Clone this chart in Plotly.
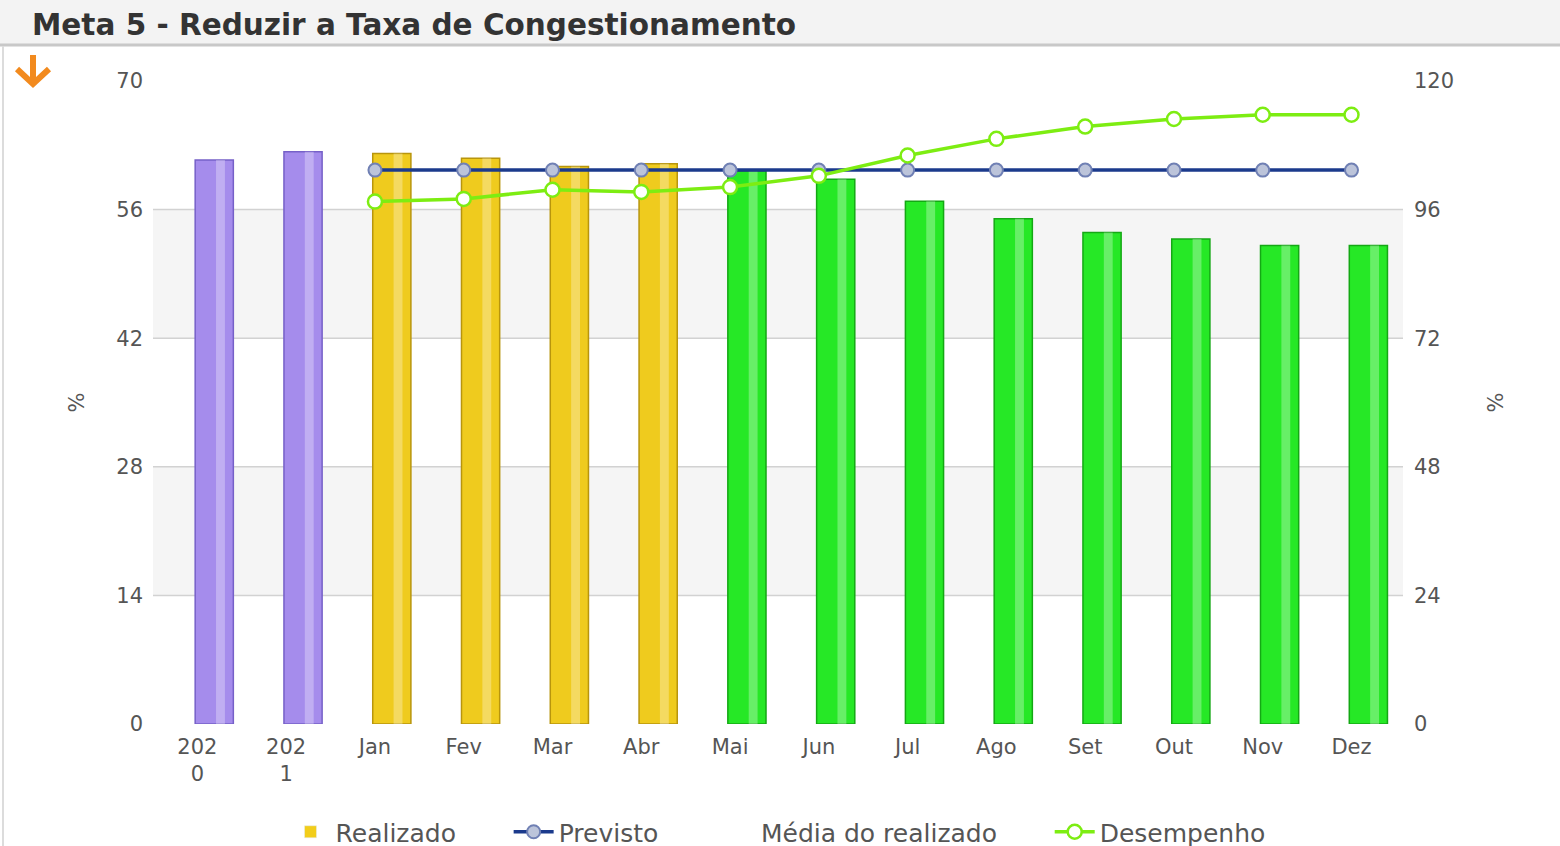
import plotly.graph_objects as go

FONT = "DejaVu Sans"
W, H = 1560, 846
# plot area in pixels
L, R, T, B = 153, 1403, 81, 724

categorias = ["2020", "2021", "Jan", "Fev", "Mar", "Abr", "Mai", "Jun",
              "Jul", "Ago", "Set", "Out", "Nov", "Dez"]
rotulos = ["202<br>0", "202<br>1", "Jan", "Fev", "Mar", "Abr", "Mai", "Jun",
           "Jul", "Ago", "Set", "Out", "Nov", "Dez"]
realizado = [61.4, 62.3, 62.1, 61.6, 60.7, 61.0, 60.2, 59.3,
             56.9, 55.0, 53.5, 52.8, 52.1, 52.1]
previsto = [None, None, 60.3, 60.3, 60.3, 60.3, 60.3, 60.3,
            60.3, 60.3, 60.3, 60.3, 60.3, 60.3]
desempenho = [None, None, 97.5, 98.0, 99.7, 99.3, 100.2, 102.3,
              106.1, 109.2, 111.5, 112.9, 113.7, 113.7]
cor_barra = ["#a58cec"] * 2 + ["#efcb1e"] * 4 + ["#26e826"] * 8
borda_barra = ["#7660c8"] * 2 + ["#b8950c"] * 4 + ["#14a814"] * 8

PAD = "\u00a0" * 6  # espaço extra entre itens da legenda


def px(x):
    return (x - L) / (R - L)


def py(y):
    return (B - y) / (B - T)


fig = go.Figure()

fig.add_trace(go.Bar(
    x=categorias, y=realizado, width=0.43, offset=-0.025,
    marker=dict(color=cor_barra, line=dict(color=borda_barra, width=1.5)),
    showlegend=False, name="Realizado",
))
# brilho da barra (efeito cilindro)
fig.add_trace(go.Bar(
    x=categorias, y=realizado, width=0.1, offset=0.21,
    marker=dict(color="rgba(255,255,255,0.3)", line=dict(width=0)),
    showlegend=False, hoverinfo="skip",
))
fig.add_trace(go.Bar(
    x=[None], y=[None], name="Realizado" + PAD, marker_color="#f2cd1a", legendrank=1,
))
fig.add_trace(go.Scatter(
    x=categorias, y=previsto, name="Previsto" + PAD, mode="lines+markers",
    line=dict(color="#1b3a8c", width=3.5),
    marker=dict(size=13, color="#bcc4da", line=dict(color="#7080b4", width=2)),
    legendrank=2,
))
fig.add_trace(go.Scatter(
    x=[None], y=[None], name="Média do realizado" + PAD, mode="lines",
    line=dict(color="rgba(0,0,0,0)"), legendrank=3,
))
fig.add_trace(go.Scatter(
    x=categorias, y=desempenho, name="Desempenho", mode="lines+markers",
    yaxis="y2", line=dict(color="#7ded12", width=3.5),
    marker=dict(size=14, color="white", line=dict(color="#7ded12", width=2.5)),
    legendrank=4,
))

shapes = []
for lo, hi in [(14, 28), (42, 56)]:
    shapes.append(dict(type="rect", xref="paper", yref="y", x0=0, x1=1, y0=lo, y1=hi,
                       fillcolor="#f5f5f5", line=dict(width=0), layer="below"))
for v in [14, 28, 42, 56]:
    shapes.append(dict(type="line", xref="paper", yref="y", x0=0, x1=1, y0=v, y1=v,
                       line=dict(color="#d2d2d2", width=1.5), layer="below"))
# faixa do título
shapes.append(dict(type="rect", xref="paper", yref="paper",
                   x0=px(0), x1=px(W), y0=py(0), y1=py(45),
                   fillcolor="#f3f3f3", line=dict(width=0), layer="below"))
shapes.append(dict(type="line", xref="paper", yref="paper",
                   x0=px(0), x1=px(W), y0=py(45), y1=py(45),
                   line=dict(color="#c8c8c8", width=3)))
shapes.append(dict(type="line", xref="paper", yref="paper",
                   x0=px(3), x1=px(3), y0=py(46), y1=py(H),
                   line=dict(color="#dcdcdc", width=2)))
# seta laranja
shapes.append(dict(type="path", xref="paper", yref="paper",
                   path=f"M {px(33)},{py(55)} L {px(33)},{py(83)} "
                        f"M {px(17)},{py(69)} L {px(33)},{py(84)} L {px(49)},{py(69)}",
                   line=dict(color="#f28a1e", width=6)))

tick_font = dict(family=FONT, size=21, color="#555")

fig.update_layout(
    width=W, height=H,
    margin=dict(l=L, r=W - R, t=T, b=H - B, autoexpand=False),
    paper_bgcolor="white", plot_bgcolor="white",
    barmode="overlay",
    shapes=shapes,
    title=dict(text="Meta 5 - Reduzir a Taxa de Congestionamento",
               x=32 / W, y=1 - 25 / H, xref="container", yref="container",
               xanchor="left", yanchor="middle",
               font=dict(family=FONT, size=29.5, color="#333", weight="bold")),
    xaxis=dict(type="category", categoryarray=categorias, range=[-0.5, 13.58],
               tickvals=categorias, ticktext=rotulos, tickfont=tick_font,
               showgrid=False, showline=False, zeroline=False, ticks="",
               ticklabelstandoff=8),
    yaxis=dict(range=[0, 70], tickvals=[0, 14, 28, 42, 56, 70], tickfont=tick_font,
               showgrid=False, zeroline=False, showline=False, ticklabelstandoff=9,
               title=dict(text="%", font=dict(family=FONT, size=21, color="#555"), standoff=25)),
    yaxis2=dict(range=[0, 120], tickvals=[0, 24, 48, 72, 96, 120], tickfont=tick_font,
                overlaying="y", side="right", showgrid=False, zeroline=False, showline=False,
                ticklabelstandoff=10,
                title=dict(text="%", font=dict(family=FONT, size=21, color="#555"), standoff=35)),
    legend=dict(orientation="h", x=0.5, xanchor="center", y=py(832), yanchor="middle",
                font=dict(family=FONT, size=25, color="#555"), itemwidth=40),
)

fig.write_html("out.html", config={"displayModeBar": False},
               post_script="document.body.style.margin='0';document.body.style.overflow='hidden';")
